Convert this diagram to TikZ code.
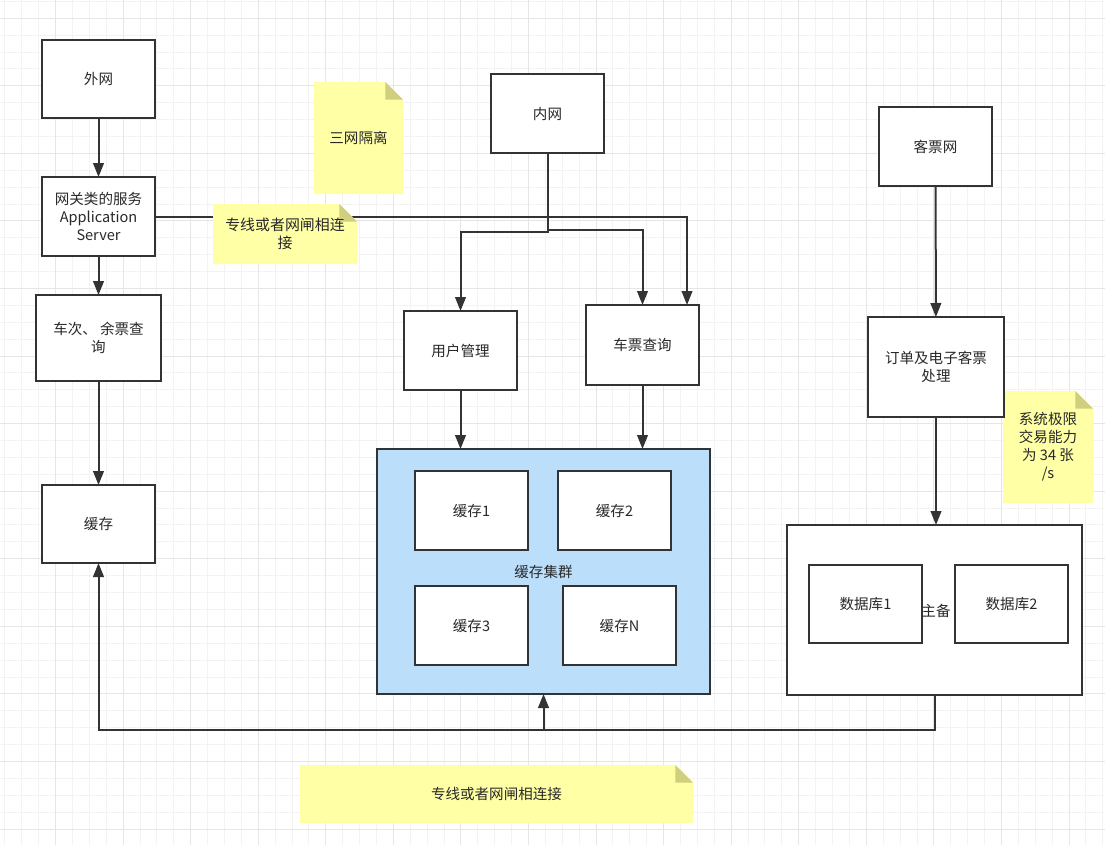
\documentclass[tikz,border=0pt]{standalone}
\usepackage{fontspec}
\setmainfont{Noto Sans CJK SC}
\usetikzlibrary{arrows.meta,calc}
\definecolor{ln}{RGB}{51,51,51}
\definecolor{txt}{RGB}{40,40,40}
\definecolor{gridminor}{RGB}{243,243,243}
\definecolor{gridmajor}{RGB}{230,230,230}
\definecolor{notefill}{RGB}{255,255,166}
\definecolor{notefold}{RGB}{207,207,125}
\definecolor{clusterfill}{RGB}{187,222,251}
\begin{document}
\begin{tikzpicture}[
  x=0.75pt, y=-0.75pt,
  sz/.style 2 args={minimum width=#1*0.75pt, minimum height=#2*0.75pt},
  box/.style={draw=ln, line width=1.5pt, fill=white, inner sep=0pt, outer sep=0pt,
    align=center, text=txt, font=\fontsize{10.9pt}{13.5pt}\selectfont},
  cluster/.style={box, fill=clusterfill},
  lbl/.style={inner sep=0pt, outer sep=0pt, align=center, text=txt,
    font=\fontsize{10.9pt}{13.5pt}\selectfont},
  note/.style={lbl, path picture={
    \fill[notefill] (path picture bounding box.south west) -- (path picture bounding box.north west)
      -- ([xshift=-13.2pt]path picture bounding box.north east)
      -- ([yshift=-13.2pt]path picture bounding box.north east)
      -- (path picture bounding box.south east) -- cycle;
    \fill[notefold] ([xshift=-13.2pt]path picture bounding box.north east)
      -- ([xshift=-13.2pt,yshift=-13.2pt]path picture bounding box.north east)
      -- ([yshift=-13.2pt]path picture bounding box.north east) -- cycle;}},
  arr/.style={draw=ln, line width=1.5pt, -{Triangle[length=10.5pt,width=8pt]}},
  gminor/.style={draw=gridminor, line width=0.75pt},
  gmajor/.style={draw=gridmajor, line width=0.75pt}
]
\useasboundingbox[fill=white] (0,0) rectangle (1105,845);
% grid
\foreach \i in {0,...,65} \draw[gminor] ({4.93+16.89*\i},0) -- ({4.93+16.89*\i},845);
\foreach \i in {0,...,49} \draw[gminor] (0,{1.4+16.89*\i}) -- (1105,{1.4+16.89*\i});
\foreach \i in {0,...,15} \draw[gmajor] ({55.6+67.56*\i},0) -- ({55.6+67.56*\i},845);
\foreach \i in {0,...,12} \draw[gmajor] (0,{18.3+67.56*\i}) -- (1105,{18.3+67.56*\i});

% left column
\node[box, sz={113}{78}] (waiwang) at (98.5,79) {外网};
\node[box, sz={113}{79}] (gw) at (98.5,216.5) {网关类的服务\\Application\\Server};
\node[box, sz={125}{86}] (checi) at (98.5,338) {车次、\ 余票查\\询};
\node[box, sz={113}{78}] (huancun) at (98.5,524) {缓存};

% notes
\node[note, sz={89}{112}] (n1) at (358.5,138) {三网隔离};
\node[note, sz={90}{112}] (n3) at (1048,447) {系统极限\\交易能力\\为 34 张\\/s};
\node[note, sz={393}{58}] (n4) at (496.5,794) {专线或者网闸相连接};

% middle column
\node[box, sz={113}{79}] (neiwang) at (547.5,113.5) {内网};
\node[box, sz={113}{79}] (yonghu) at (460.5,350.5) {用户管理};
\node[box, sz={113}{80}] (piao) at (642.5,345) {车票查询};
\node[cluster, sz={333}{245}] (cl) at (543.5,571.5) {缓存集群};
\node[box, sz={113}{79}] (hc1) at (471.5,510.5) {缓存1};
\node[box, sz={113}{79}] (hc2) at (614.5,510.5) {缓存2};
\node[box, sz={113}{79}] (hc3) at (471.5,625.5) {缓存3};
\node[box, sz={113}{79}] (hcn) at (619.5,625.5) {缓存N};

% right column
\node[box, sz={113}{79}] (kepiao) at (935.5,146.5) {客票网};
\node[box, sz={136}{100}] (dingdan) at (936,367) {订单及电子客票\\处理};
\node[box, sz={295}{170}] (dbc) at (934.5,610) {};
\node[box, sz={113}{78}] (db1) at (865.5,604) {数据库1};
\node[box, sz={113}{78}] (db2) at (1011.5,604) {数据库2};
\node[lbl] (zhubei) at (936,611) {主备};

% connectors
\draw[arr] (waiwang) -- (gw);
\draw[arr] (gw) -- (checi);
\draw[arr] (checi) -- (huancun);
\draw[arr] (gw.east) -| ([xshift=-9pt]piao.north east);
\draw[arr] (neiwang.south) -- ++(0,79) -| (yonghu.north);
\draw[arr] (neiwang.south) -- ++(0,77) -| (piao.north);
\draw[arr] (yonghu.south) -- (yonghu.south |- cl.north);
\draw[arr] (piao.south) -- (piao.south |- cl.north);
\draw[arr] (kepiao) -- (dingdan);
\draw[arr] (dingdan.south) -- (dingdan.south |- dbc.north);
\draw[arr] (dbc.south) -- ++(0,35) coordinate (bj) -| (huancun.south);
\draw[arr] (cl.south |- bj) -- (cl.south);

% note over the gateway line
\node[note, sz={144}{60}, font=\fontsize{11.2pt}{13.8pt}\selectfont] (n2) at (285,234) {专线或者网闸相连\\接};
\end{tikzpicture}
\end{document}
